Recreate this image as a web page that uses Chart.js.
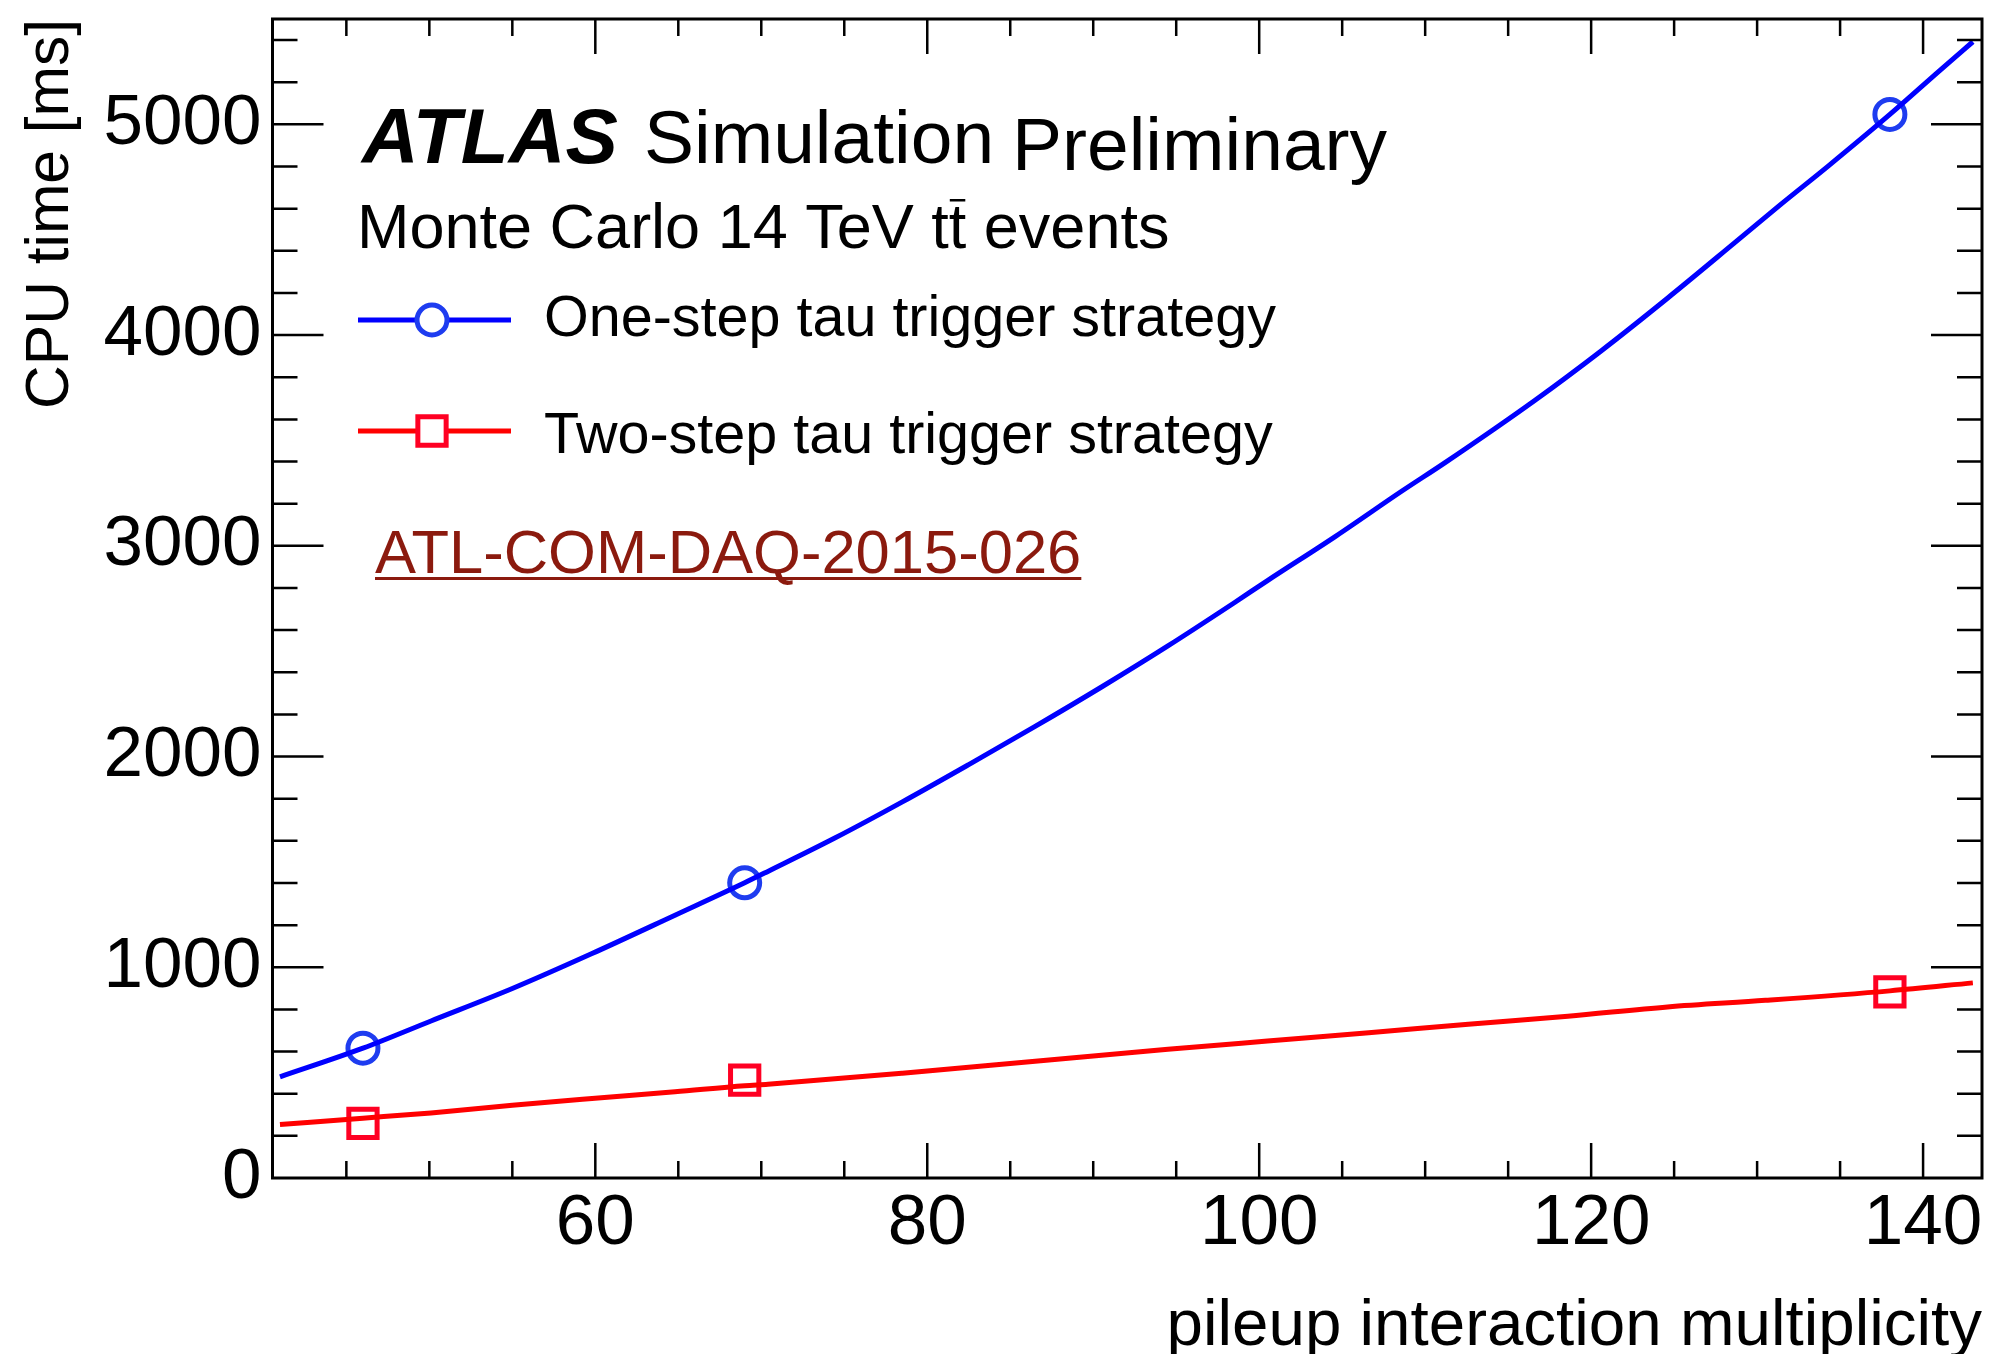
<!DOCTYPE html>
<html>
<head>
<meta charset="utf-8">
<title>CPU time vs pileup</title>
<script src="https://cdn.jsdelivr.net/npm/chart.js@4.4.1/dist/chart.umd.min.js"></script>
<style>
  html, body { margin: 0; padding: 0; background: #fff; }
  #wrap { width: 1997px; height: 1354px; }
</style>
</head>
<body>
<div id="wrap"><canvas id="cpuChart"></canvas></div>
<script>
const FONT = '"Liberation Sans", Arial, Helvetica, sans-serif';

// fitted curves, sampled along the drawn lines
const oneStepX = [41, 46, 50.1, 55, 59.8, 64.8, 69, 70.4, 74.4, 78.5, 82.5, 86.5, 90.5, 94.5, 98.5, 100.5, 104.6, 108.6, 111.2, 116.6, 120.6, 124.6, 128.6, 131.3, 134.3, 138, 141, 143];
const oneStepY = [480, 616, 745, 899, 1065, 1247, 1401, 1455, 1612, 1785, 1962, 2143, 2330, 2525, 2730, 2835, 3045, 3260, 3395, 3690, 3925, 4175, 4435, 4612, 4803, 5047, 5255, 5392];
const twoStepX = [41, 46, 50.1, 55, 59.8, 64.8, 69, 70.4, 78.5, 86.5, 94.5, 100.5, 106.6, 112.6, 118.6, 124.6, 130.5, 138, 143];
const twoStepY = [254, 284, 309, 345, 377, 409, 438, 445, 497, 554, 611, 650, 689, 730, 768, 812, 843, 888, 926];

// simulated pileup points
const pileupPoints = [46, 69, 138];
const oneStepPoints = [616, 1401, 5047];
const twoStepPoints = [259, 464, 883];

const xTicks = [60, 80, 100, 120, 140];
const yTicks = [0, 1000, 2000, 3000, 4000, 5000];

const seriesNames = ['One-step tau trigger strategy', 'Two-step tau trigger strategy'];

const BLUE = '#0000ff', BLUE_MARK = 'rgb(30,60,240)';
const RED = '#ff0000', RED_MARK = 'rgb(255,0,35)';
const CIRCLE_R = 15, RECT_R = 20, MARK_W = 5;

function toXY(xs, ys) {
    return xs.map((x, i) => ({ x: x, y: ys[i] }));
}

// ticks inside the frame on all four sides, then the frame itself
const frameAndTicks = {
    id: 'frameAndTicks',
    afterDatasetsDraw(chart) {
        const { ctx, chartArea: a, scales: { x, y } } = chart;
        ctx.save();
        ctx.strokeStyle = '#000';
        ctx.lineWidth = 2.5;
        ctx.beginPath();
        for (let v = 45; v <= x.max; v += 5) {
            const px = x.getPixelForValue(v);
            const len = xTicks.includes(v) ? 35 : 17;
            ctx.moveTo(px, a.bottom); ctx.lineTo(px, a.bottom - len);
            ctx.moveTo(px, a.top); ctx.lineTo(px, a.top + len);
        }
        for (let v = 200; v <= y.max; v += 200) {
            const py = y.getPixelForValue(v);
            const len = v % 1000 === 0 ? 51 : 25;
            ctx.moveTo(a.left, py); ctx.lineTo(a.left + len, py);
            ctx.moveTo(a.right, py); ctx.lineTo(a.right - len, py);
        }
        ctx.stroke();
        ctx.lineWidth = 3;
        ctx.strokeRect(a.left, a.top, a.right - a.left, a.bottom - a.top);
        ctx.restore();
    }
};

// ATLAS label, sample description, legend and note reference
const labels = {
    id: 'labels',
    afterDraw(chart) {
        const ctx = chart.ctx;
        ctx.save();
        ctx.textBaseline = 'alphabetic';
        ctx.textAlign = 'left';
        ctx.fillStyle = '#000';

        ctx.font = 'italic bold 78.5px ' + FONT;
        ctx.fillText('ATLAS', 362, 163);
        ctx.font = '75px ' + FONT;
        ctx.fillText('Simulation', 644, 163);
        ctx.fillText('Preliminary', 1012, 170);

        ctx.font = '63px ' + FONT;
        const before = 'Monte Carlo 14 TeV t';
        ctx.fillText(before + 't events', 357, 248);
        const barX = 357 + ctx.measureText(before).width;
        const tW = ctx.measureText('t').width;
        ctx.fillRect(barX + 1, 199, tW - 2, 2.5);

        // legend
        const entries = [
            { y: 320, line: BLUE, mark: BLUE_MARK, style: 'circle', r: CIRCLE_R },
            { y: 431, line: RED, mark: RED_MARK, style: 'rect', r: RECT_R }
        ];
        ctx.font = '57.5px ' + FONT;
        entries.forEach((e, i) => {
            ctx.strokeStyle = e.line;
            ctx.lineWidth = 5;
            ctx.beginPath();
            ctx.moveTo(358, e.y); ctx.lineTo(511, e.y);
            ctx.stroke();
            ctx.fillStyle = '#fff';
            ctx.strokeStyle = e.mark;
            ctx.lineWidth = MARK_W;
            Chart.helpers.drawPoint(ctx, { pointStyle: e.style, radius: e.r, borderWidth: MARK_W, rotation: 0 }, 432, e.y);
            ctx.fillStyle = '#000';
            ctx.fillText(seriesNames[i], 544, e.y + 16 + (i ? 6 : 0));
        });

        ctx.font = '61.5px ' + FONT;
        ctx.fillStyle = '#8b1a0e';
        const note = 'ATL-COM-DAQ-2015-026';
        ctx.fillText(note, 375, 573);
        ctx.fillRect(375, 577, ctx.measureText(note).width, 3);
        ctx.restore();
    }
};

const ctx = document.getElementById('cpuChart').getContext('2d');
new Chart(ctx, {
    type: 'scatter',
    data: {
        datasets: [
            {
                data: toXY(oneStepX, oneStepY),
                showLine: true, borderColor: BLUE, borderWidth: 5,
                pointRadius: 0, cubicInterpolationMode: 'monotone'
            },
            {
                data: toXY(twoStepX, twoStepY),
                showLine: true, borderColor: RED, borderWidth: 5,
                pointRadius: 0, cubicInterpolationMode: 'monotone'
            },
            {
                data: toXY(pileupPoints, oneStepPoints),
                showLine: false, pointStyle: 'circle', pointRadius: CIRCLE_R,
                borderColor: BLUE_MARK, backgroundColor: '#fff',
                borderWidth: MARK_W, pointBorderWidth: MARK_W
            },
            {
                data: toXY(pileupPoints, twoStepPoints),
                showLine: false, pointStyle: 'rect', pointRadius: RECT_R,
                borderColor: RED_MARK, backgroundColor: '#fff',
                borderWidth: MARK_W, pointBorderWidth: MARK_W
            }
        ]
    },
    options: {
        responsive: true,
        maintainAspectRatio: false,
        devicePixelRatio: 1,
        animation: false,
        layout: { autoPadding: false, padding: { left: 0, right: 15, top: 19, bottom: 0 } },
        plugins: { legend: { display: false }, tooltip: { enabled: false } },
        scales: {
            x: {
                type: 'linear',
                min: 40.55,
                max: 143.55,
                grid: { display: false },
                border: { display: false },
                afterBuildTicks: (scale) => { scale.ticks = xTicks.map(v => ({ value: v })); },
                afterFit: (scale) => {
                    scale.height = 176;
                    scale.paddingLeft = 0;
                    scale.paddingRight = 0;
                },
                ticks: {
                    color: '#000', padding: -4, maxRotation: 0,
                    font: { family: FONT, size: 71 },
                    callback: (v) => String(v)
                },
                title: {
                    display: true, text: 'pileup interaction multiplicity', align: 'end',
                    color: '#000', font: { family: FONT, size: 65.5, lineHeight: 0.84 },
                    padding: { top: 0, bottom: 0 }
                }
            },
            y: {
                type: 'linear',
                min: 0,
                max: 5500,
                grid: { display: false },
                border: { display: false },
                afterBuildTicks: (scale) => { scale.ticks = yTicks.map(v => ({ value: v })); },
                afterFit: (scale) => {
                    scale.width = 272.5;
                    scale.paddingTop = 0;
                    scale.paddingBottom = 0;
                },
                ticks: {
                    color: '#000', padding: 3,
                    font: { family: FONT, size: 71 },
                    callback: (v) => String(v)
                },
                title: {
                    display: true, text: 'CPU time [ms]', align: 'end',
                    color: '#000', font: { family: FONT, size: 60.5 },
                    padding: { top: 15, bottom: 0 }
                }
            }
        }
    },
    plugins: [frameAndTicks, labels]
});
</script>
</body>
</html>
